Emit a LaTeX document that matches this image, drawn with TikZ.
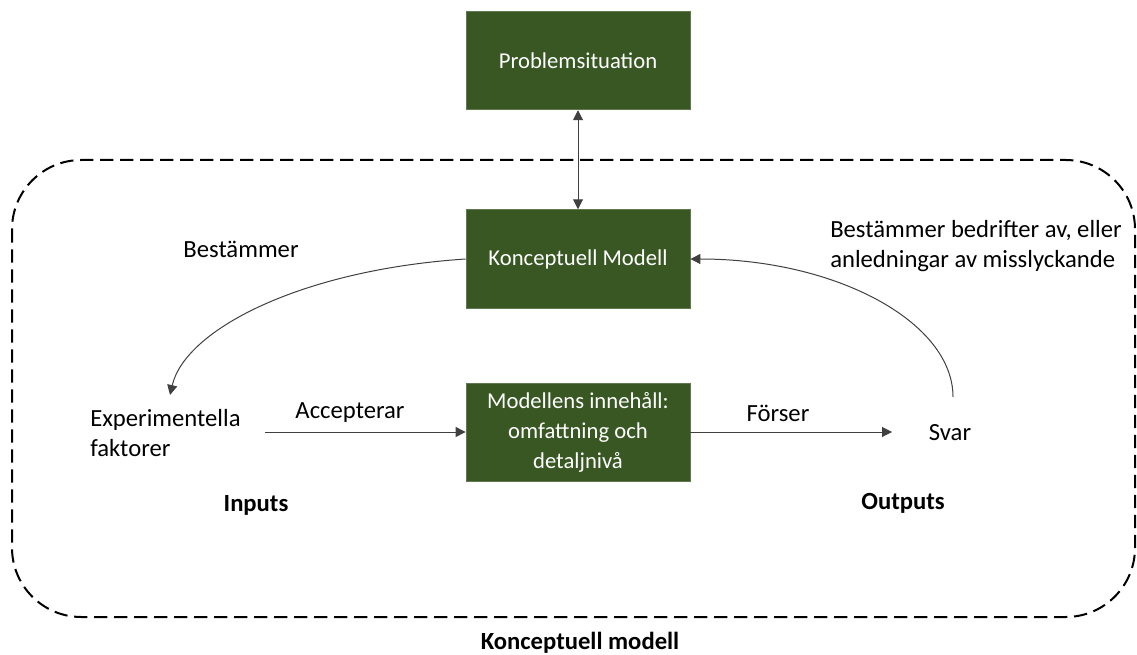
\documentclass[tikz,border=0pt]{standalone}
\usepackage{fontspec}
\setmainfont{Carlito}
\usetikzlibrary{arrows.meta,calc}
\definecolor{boxgreen}{HTML}{385723}
\definecolor{linegray}{HTML}{404040}
\begin{document}
\begin{tikzpicture}[x=0.75pt,y=-0.75pt,
  every node/.style={font=\fontsize{18.5}{22}\selectfont, inner sep=0pt},
  greenbox/.style={draw=boxgreen!80!white, line width=0.6pt, fill=boxgreen, text=white,
    font=\fontsize{17}{22.5}\selectfont,
    minimum width=168pt, minimum height=74pt, align=center},
  plain/.style={align=left},
  bold/.style={font=\fontsize{18.5}{22}\selectfont\bfseries},
  conn/.style={draw=linegray, line width=0.75pt, -{Triangle[length=7.5pt,width=7.5pt]}},
  boundary/.style={draw=black, line width=1.5pt, dash pattern=on 10pt off 5pt}
]
\useasboundingbox (0,0) rectangle (1137,655);

% outer dashed boundary of the conceptual model
\draw[boundary, rounded corners=52pt] (12,160) rectangle (1135,617);

% boxes
\node[greenbox] (prob) at (578,60.5) {Problemsituation};
\node[greenbox] (km) at (578,259) {Konceptuell Modell};
\node[greenbox] (inn) at (578,432.5) {Modellens innehåll:\\omfattning och\\detaljnivå};

% plain labels
\node[plain, anchor=west] (exp) at (90,433) {Experimentella\\faktorer};
\node (svar) at (950,433) {Svar};
\node (best) at (241,249) {Bestämmer};
\node[plain, anchor=west] (bedr) at (830,246) {Bestämmer bedrifter av, eller\\anledningar av misslyckande};
\node (acc) at (350,413) {Accepterar};
\node (fors) at (778,413) {Förser};
\node[bold] (inputs) at (256,505) {Inputs};
\node[bold] (outputs) at (903,503) {Outputs};
\node[bold] (title) at (580,643) {Konceptuell modell};

% free ends of connectors
\coordinate (expTip) at (170,395);
\coordinate (svarTop) at (953,397);
\coordinate (accStart) at (265,432);
\coordinate (forsEnd) at (892,432);

% connectors
\draw[conn, {Triangle[length=7.5pt,width=7.5pt]}-{Triangle[length=7.5pt,width=7.5pt]}] (prob.south) -- (km.north);
\draw[conn] (accStart) -- (inn.west |- accStart);
\draw[conn] (inn.east |- forsEnd) -- (forsEnd);
\draw[conn] (km.west) .. controls (300,270) and (185,330) .. (expTip);
\draw[conn] (svarTop) .. controls (953,322) and (836,259) .. (km.east);
\end{tikzpicture}
\end{document}
